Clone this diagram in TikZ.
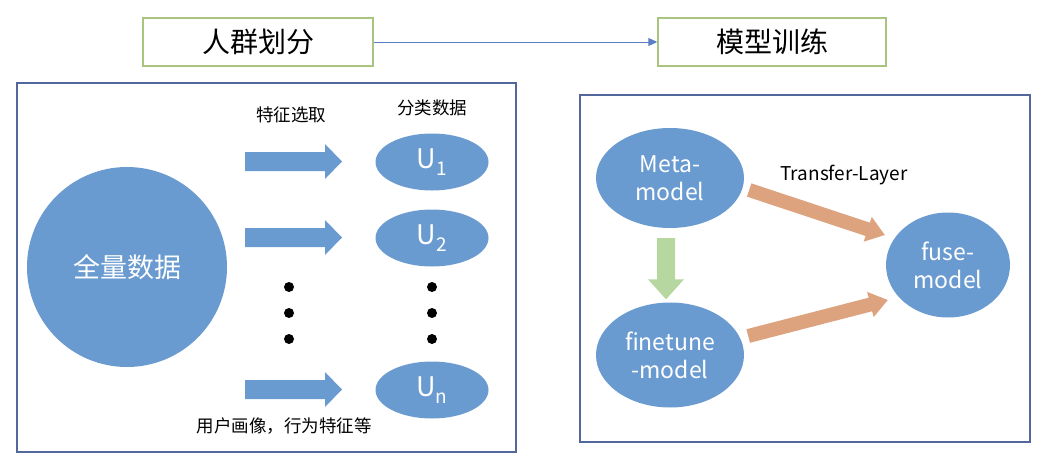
\documentclass[tikz,border=0pt]{standalone}
\usepackage{fontspec}
\setmainfont{Noto Sans CJK SC}
\usetikzlibrary{calc,shapes.geometric,arrows.meta}
\definecolor{ellblue}{HTML}{6A9BD0}
\definecolor{panelline}{HTML}{52679C}
\definecolor{boxgreen}{HTML}{A9C47F}
\definecolor{toplink}{HTML}{5B7FC4}
\definecolor{fatorange}{HTML}{DDA27E}
\definecolor{fatgreen}{HTML}{B6D7A0}
\newcommand\fatarrow[6]{%
  \coordinate (fah) at ($(#2)!#5!(#1)$);
  \fill[#6] ($(#1)!#3!90:(#2)$) -- ($(fah)!#3!-90:(#1)$) -- ($(fah)!#4!-90:(#1)$) -- (#2)
    -- ($(fah)!#4!90:(#1)$) -- ($(fah)!#3!90:(#1)$) -- ($(#1)!#3!-90:(#2)$) -- cycle;
}
\newcommand\usub[1]{\raisebox{-0.28em}{\fontsize{19}{20}\selectfont #1}}
\tikzset{
  ell/.style={ellipse, fill=ellblue, draw=none, inner sep=0pt, text=white, align=center,
    font=\fontsize{23}{28}\selectfont},
  uell/.style={ell, minimum width=113pt, minimum height=57pt, font=\fontsize{27}{30}\selectfont},
  titlebox/.style={draw=boxgreen, line width=1.4pt, fill=white, minimum height=48pt,
    inner sep=0pt, font=\fontsize{28}{30}\selectfont},
  panel/.style={draw=panelline, line width=1.4pt},
  toparrow/.style={draw=toplink, line width=0.9pt, -{Triangle[length=9pt,width=8pt]}},
  lbl/.style={inner sep=0pt, font=\fontsize{17.5}{20}\selectfont},
  dot/.style={circle, fill=black, inner sep=0pt, minimum size=10pt},
}
\begin{document}
\begin{tikzpicture}[x=1pt,y=-1pt]
\useasboundingbox (0,0) rectangle (1053,463);
% title boxes
\node[titlebox, minimum width=230pt] (t1) at (258,42) {人群划分};
\node[titlebox, minimum width=228pt] (t2) at (772,42) {模型训练};
\draw[toparrow] (t1.east) -- (t2.west);
% panels
\draw[panel] (17,83) rectangle (516,452);
\draw[panel] (580,95) rectangle (1030,442);
% left panel
\node[ell, circle, minimum size=200pt, font=\fontsize{27}{30}\selectfont] (all) at (127,267) {全量数据};
\node[lbl] (sel) at (291,115) {特征选取};
\node[lbl] (cls) at (432,108) {分类数据};
\node[uell] (u1) at (432,162) {U\usub{1}};
\node[uell] (u2) at (432,238) {U\usub{2}};
\node[uell] (un) at (432,390) {U\usub{n}};
\coordinate (a1s) at (245,161.5); \coordinate (a1t) at (342,161.5);
\coordinate (a2s) at (245,237.5); \coordinate (a2t) at (342,237.5);
\coordinate (a3s) at (245,389.5); \coordinate (a3t) at (342,389.5);
\fatarrow{a1s}{a1t}{9.5pt}{17.5pt}{17pt}{ellblue}
\fatarrow{a2s}{a2t}{9.5pt}{17.5pt}{17pt}{ellblue}
\fatarrow{a3s}{a3t}{9.5pt}{17.5pt}{17pt}{ellblue}
\node[dot] (d1) at (289,287) {};
\node[dot] (d2) at (289,313) {};
\node[dot] (d3) at (289,339) {};
\node[dot] (d4) at (432,287) {};
\node[dot] (d5) at (432,313) {};
\node[dot] (d6) at (432,339) {};
\node[lbl] (feat) at (284,426) {用户画像，行为特征等};
% right panel
\node[ell, minimum width=148pt, minimum height=100pt] (meta) at (670,178) {Meta-\\model};
\node[ell, minimum width=148pt, minimum height=105pt] (fine) at (670,355) {finetune\\-model};
\node[ell, minimum width=124pt, minimum height=105pt] (fuse) at (948,265) {fuse-\\model};
\node[inner sep=0pt, font=\fontsize{19}{22}\selectfont] (tl) at (844,175) {Transfer-Layer};
\coordinate (g1s) at ($(meta.south)+(-4,10)$);
\coordinate (g1t) at ($(fine.north)+(-4,-3)$);
\fatarrow{g1s}{g1t}{9pt}{18pt}{20pt}{fatgreen}
\coordinate (o1s) at ($(meta.east)+(5,12)$);
\coordinate (o1t) at ($(fuse.west)+(-1,-30)$);
\fatarrow{o1s}{o1t}{7pt}{13pt}{18pt}{fatorange}
\coordinate (o2s) at ($(fine.east)+(4,-19)$);
\coordinate (o2t) at ($(fuse.west)+(2,35)$);
\fatarrow{o2s}{o2t}{7pt}{13pt}{18pt}{fatorange}
\end{tikzpicture}
\end{document}
